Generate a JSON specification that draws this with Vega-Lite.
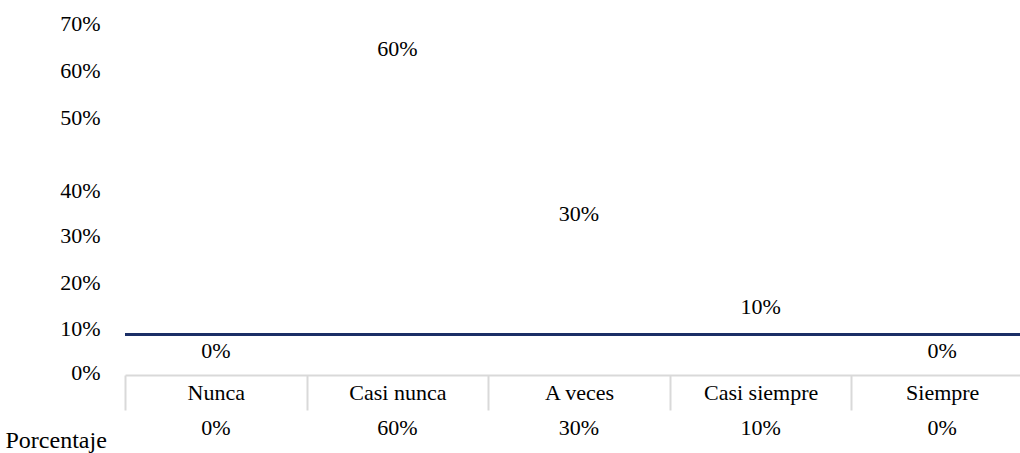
{
  "$schema": "https://vega.github.io/schema/vega-lite/v6.json",
  "autosize": {"type": "none"},
  "padding": {"left": 125, "top": 0, "right": 0, "bottom": 78},
  "width": 895,
  "height": 375,
  "background": "white",
  "config": {
    "view": {"stroke": null},
    "font": "Liberation Serif",
    "text": {"font": "Liberation Serif", "fontSize": 22, "color": "#000000"}
  },
  "data": {
    "values": [
      {"categoria": "Nunca", "valor": 0.0},
      {"categoria": "Casi nunca", "valor": 0.6},
      {"categoria": "A veces", "valor": 0.3},
      {"categoria": "Casi siempre", "valor": 0.1},
      {"categoria": "Siempre", "valor": 0.0}
    ]
  },
  "encoding": {
    "x": {
      "field": "categoria",
      "type": "nominal",
      "sort": null,
      "scale": {"paddingInner": 0, "paddingOuter": 0, "range": [0, 908]},
      "axis": {
        "title": null,
        "labelAngle": 0,
        "labelFont": "Liberation Serif",
        "labelFontSize": 22,
        "labelColor": "#000000",
        "labelBaseline": "middle",
        "labelPadding": -18,
        "domainColor": "#d9d9d9",
        "domainWidth": 2,
        "ticks": true,
        "tickBand": "extent",
        "tickColor": "#d9d9d9",
        "tickWidth": 2,
        "tickSize": 35,
        "grid": false
      }
    }
  },
  "layer": [
    {
      "mark": {"type": "rule", "color": "#1b2f66", "strokeWidth": 3},
      "encoding": {
        "x": null,
        "y": {
          "datum": 0.085,
          "type": "quantitative",
          "scale": {
            "domain": [-0.12, 0, 0.1, 0.2, 0.3, 0.4, 0.5, 0.6, 0.7],
            "range": [428, 372, 328, 282, 235, 190, 117, 70, 23],
            "nice": false,
            "zero": false
          },
          "axis": {
            "values": [0, 0.1, 0.2, 0.3, 0.4, 0.5, 0.6, 0.7],
            "format": ".0%",
            "domain": false,
            "ticks": false,
            "grid": false,
            "labelFont": "Liberation Serif",
            "labelFontSize": 22,
            "labelColor": "#000000",
            "labelBaseline": "middle",
            "labelPadding": 25,
            "title": "Porcentaje",
            "titleAngle": 0,
            "titleAlign": "left",
            "titleBaseline": "middle",
            "titleX": -120,
            "titleY": 440,
            "titleFont": "Liberation Serif",
            "titleFontSize": 24,
            "titleFontWeight": "normal",
            "titleColor": "#000000"
          }
        }
      }
    },
    {
      "mark": {"type": "text", "baseline": "middle", "dy": -21},
      "encoding": {
        "y": {"field": "valor", "type": "quantitative"},
        "text": {"field": "valor", "type": "quantitative", "format": ".0%"}
      }
    },
    {
      "mark": {"type": "text", "baseline": "middle"},
      "encoding": {
        "y": {"datum": -0.12, "type": "quantitative"},
        "text": {"field": "valor", "type": "quantitative", "format": ".0%"}
      }
    }
  ]
}
